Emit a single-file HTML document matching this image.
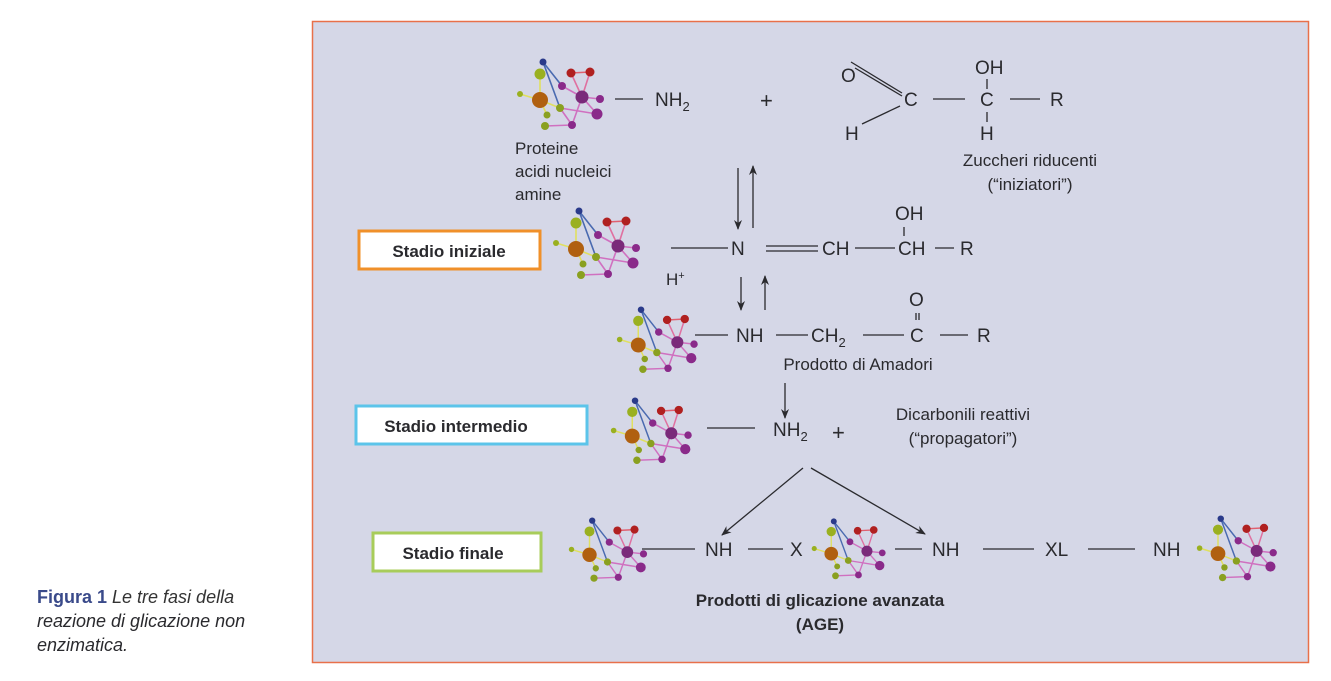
<!DOCTYPE html>
<html><head><meta charset="utf-8"><style>
html,body{margin:0;padding:0;background:#fff;}
svg{display:block;}
text{font-family:"Liberation Sans",sans-serif;fill:#2a2a2e;}
</style></head><body>
<svg width="1331" height="681" viewBox="0 0 1331 681" xmlns="http://www.w3.org/2000/svg">
<defs>
<g id="mol">
 <g stroke-width="1.6" fill="none">
  <line x1="28" y1="4" x2="45" y2="50" stroke="#4a6ab0"/>
  <line x1="28" y1="4" x2="47" y2="28" stroke="#4a6ab0"/>
  <line x1="56" y1="15" x2="75" y2="14" stroke="#e06070"/>
  <line x1="56" y1="15" x2="67" y2="39" stroke="#e070a0"/>
  <line x1="75" y1="14" x2="67" y2="39" stroke="#e070a0"/>
  <line x1="47" y1="28" x2="67" y2="39" stroke="#d070c0"/>
  <line x1="67" y1="39" x2="85" y2="41" stroke="#d070c0"/>
  <line x1="67" y1="39" x2="82" y2="56" stroke="#d070c0"/>
  <line x1="45" y1="50" x2="82" y2="56" stroke="#d070c0"/>
  <line x1="45" y1="50" x2="57" y2="67" stroke="#d070c0"/>
  <line x1="30" y1="68" x2="57" y2="67" stroke="#d070c0"/>
  <line x1="67" y1="39" x2="57" y2="67" stroke="#d070c0"/>
  <line x1="5" y1="36" x2="25" y2="42" stroke="#e0e060"/>
  <line x1="25" y1="16" x2="25" y2="42" stroke="#e0e060"/>
  <line x1="25" y1="42" x2="45" y2="50" stroke="#e0e060"/>
  <line x1="32" y1="57" x2="25" y2="42" stroke="#e0e060"/>
 </g>
 <circle cx="28" cy="4" r="3.5" fill="#2a3a8a"/>
 <circle cx="56" cy="15" r="4.5" fill="#b02020"/>
 <circle cx="75" cy="14" r="4.5" fill="#b02020"/>
 <circle cx="25" cy="16" r="5.5" fill="#9ab020"/>
 <circle cx="5" cy="36" r="3" fill="#9ab020"/>
 <circle cx="25" cy="42" r="8" fill="#b06010"/>
 <circle cx="47" cy="28" r="4" fill="#8a2a8a"/>
 <circle cx="67" cy="39" r="6.5" fill="#7a2a7a"/>
 <circle cx="85" cy="41" r="4" fill="#8a2a8a"/>
 <circle cx="82" cy="56" r="5.5" fill="#8a2a8a"/>
 <circle cx="45" cy="50" r="4" fill="#8aa020"/>
 <circle cx="32" cy="57" r="3.5" fill="#8aa020"/>
 <circle cx="30" cy="68" r="4" fill="#8aa020"/>
 <circle cx="57" cy="67" r="4" fill="#8a2a8a"/>
</g>
<marker id="ah" markerWidth="10" markerHeight="10" refX="9" refY="5" orient="auto" markerUnits="userSpaceOnUse">
 <path d="M0,1 L10,5 L0,9 L3,5 Z" fill="#2a2a2e"/>
</marker>
</defs>

<rect x="312.5" y="21.5" width="996" height="641" fill="#d5d7e7" stroke="#e8704a" stroke-width="1.5"/>

<use href="#mol" x="515" y="58"/>
<use href="#mol" x="551" y="207"/>
<use href="#mol" x="615" y="306" transform="translate(615,306) scale(0.93) translate(-615,-306)"/>
<use href="#mol" x="609" y="397" transform="translate(609,397) scale(0.93) translate(-609,-397)"/>
<use href="#mol" x="567" y="517" transform="translate(567,517) scale(0.9) translate(-567,-517)"/>
<use href="#mol" x="810" y="518" transform="translate(810,518) scale(0.85) translate(-810,-518)"/>
<use href="#mol" x="1195" y="515" transform="translate(1195,515) scale(0.92) translate(-1195,-515)"/>

<g stroke="#2a2a2e" stroke-width="1.3" fill="none">
 <line x1="615" y1="99" x2="643" y2="99"/>
 <line x1="851" y1="62" x2="902" y2="93"/>
 <line x1="855" y1="68" x2="902" y2="96"/>
 <line x1="862" y1="124" x2="900" y2="106"/>
 <line x1="933" y1="99" x2="965" y2="99"/>
 <line x1="987" y1="79" x2="987" y2="89"/>
 <line x1="987" y1="112" x2="987" y2="122"/>
 <line x1="1010" y1="99" x2="1040" y2="99"/>
 <line x1="738" y1="168" x2="738" y2="229" marker-end="url(#ah)"/>
 <line x1="753" y1="228" x2="753" y2="166" marker-end="url(#ah)"/>
 <line x1="671" y1="248" x2="728" y2="248"/>
 <line x1="766" y1="246" x2="818" y2="246"/>
 <line x1="766" y1="251" x2="818" y2="251"/>
 <line x1="855" y1="248" x2="895" y2="248"/>
 <line x1="904" y1="227" x2="904" y2="236"/>
 <line x1="935" y1="248" x2="954" y2="248"/>
 <line x1="741" y1="277" x2="741" y2="310" marker-end="url(#ah)"/>
 <line x1="765" y1="310" x2="765" y2="276" marker-end="url(#ah)"/>
 <line x1="695" y1="335" x2="728" y2="335"/>
 <line x1="776" y1="335" x2="808" y2="335"/>
 <line x1="863" y1="335" x2="904" y2="335"/>
 <line x1="916" y1="313" x2="916" y2="320"/>
 <line x1="919" y1="313" x2="919" y2="320"/>
 <line x1="940" y1="335" x2="968" y2="335"/>
 <line x1="785" y1="383" x2="785" y2="418" marker-end="url(#ah)"/>
 <line x1="707" y1="428" x2="755" y2="428"/>
 <line x1="803" y1="468" x2="722" y2="535" marker-end="url(#ah)"/>
 <line x1="811" y1="468" x2="925" y2="534" marker-end="url(#ah)"/>
 <line x1="642" y1="549" x2="695" y2="549"/>
 <line x1="748" y1="549" x2="783" y2="549"/>
 <line x1="895" y1="549" x2="922" y2="549"/>
 <line x1="983" y1="549" x2="1034" y2="549"/>
 <line x1="1088" y1="549" x2="1135" y2="549"/>
</g>

<g font-size="19">
 <text x="655" y="106">NH<tspan font-size="13" dy="5">2</tspan></text>
 <text x="760" y="108" font-size="22">+</text>
 <text x="841" y="82">O</text>
 <text x="904" y="106">C</text>
 <text x="975" y="74">OH</text>
 <text x="980" y="106">C</text>
 <text x="1050" y="106">R</text>
 <text x="845" y="140">H</text>
 <text x="980" y="140">H</text>
 <text x="731" y="255">N</text>
 <text x="822" y="255">CH</text>
 <text x="898" y="255">CH</text>
 <text x="895" y="220">OH</text>
 <text x="960" y="255">R</text>
 <text x="666" y="285" font-size="17">H<tspan font-size="11" dy="-6">+</tspan></text>
 <text x="736" y="342">NH</text>
 <text x="811" y="342">CH<tspan font-size="13" dy="5">2</tspan></text>
 <text x="910" y="342">C</text>
 <text x="909" y="306">O</text>
 <text x="977" y="342">R</text>
 <text x="773" y="436">NH<tspan font-size="13" dy="5">2</tspan></text>
 <text x="832" y="440" font-size="22">+</text>
 <text x="705" y="556">NH</text>
 <text x="790" y="556">X</text>
 <text x="932" y="556">NH</text>
 <text x="1045" y="556">XL</text>
 <text x="1153" y="556">NH</text>
</g>

<g font-size="17">
 <text x="515" y="154">Proteine</text>
 <text x="515" y="177">acidi nucleici</text>
 <text x="515" y="200">amine</text>
 <text x="1030" y="166" text-anchor="middle">Zuccheri riducenti</text>
 <text x="1030" y="190" text-anchor="middle">(“iniziatori”)</text>
 <text x="858" y="370" text-anchor="middle">Prodotto di Amadori</text>
 <text x="963" y="420" text-anchor="middle">Dicarbonili reattivi</text>
 <text x="963" y="444" text-anchor="middle">(“propagatori”)</text>
 <text x="820" y="606" text-anchor="middle" font-weight="bold">Prodotti di glicazione avanzata</text>
 <text x="820" y="630" text-anchor="middle" font-weight="bold">(AGE)</text>
</g>

<rect x="359" y="231" width="181" height="38" fill="#fff" stroke="#f0902a" stroke-width="3"/>
<text x="449" y="257" text-anchor="middle" font-size="17" font-weight="bold">Stadio iniziale</text>
<rect x="356" y="406" width="231" height="38" fill="#fff" stroke="#5cc4ea" stroke-width="3"/>
<text x="456" y="432" text-anchor="middle" font-size="17" font-weight="bold">Stadio intermedio</text>
<rect x="373" y="533" width="168" height="38" fill="#fff" stroke="#a8cc5a" stroke-width="3"/>
<text x="453" y="559" text-anchor="middle" font-size="17" font-weight="bold">Stadio finale</text>

<text x="37" y="603" font-size="18"><tspan font-weight="bold" fill="#3a4a8a">Figura 1</tspan><tspan font-style="italic" fill="#333"> Le tre fasi della</tspan></text>
<text x="37" y="627" font-size="18" font-style="italic" fill="#333">reazione di glicazione non</text>
<text x="37" y="651" font-size="18" font-style="italic" fill="#333">enzimatica.</text>
</svg>
</body></html>
